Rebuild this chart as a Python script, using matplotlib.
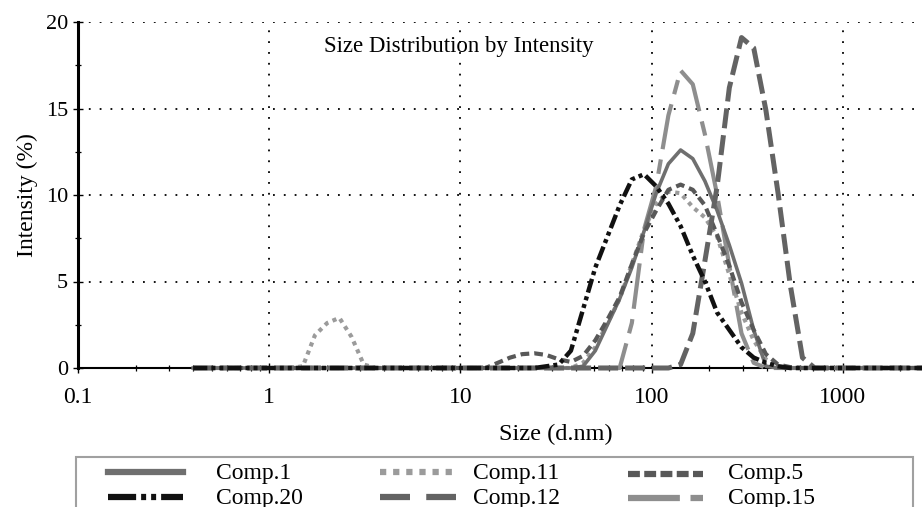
import matplotlib
matplotlib.use("Agg")
import matplotlib.pyplot as plt
from matplotlib.lines import Line2D
from matplotlib.patches import Rectangle
from matplotlib.ticker import LogLocator, FixedLocator, NullFormatter, FixedFormatter, MultipleLocator

plt.rcParams['font.family'] = ['Liberation Serif', 'DejaVu Serif']

# Size classes (d.nm) shared by all measurements
size_nm = [0.4,
           1.294, 1.499, 1.736, 2.010, 2.328, 2.696, 3.122, 3.615,
           11.70, 13.54, 15.69, 18.17, 21.04, 24.36, 28.21, 32.67, 37.84, 43.82,
           50.75, 58.77, 68.06, 78.82, 91.28, 105.7, 122.4, 141.8, 164.2, 190.1,
           220.2, 255.0, 295.3, 342.0, 396.1, 458.7, 531.2, 615.1, 712.4, 825.0,
           10000]

# Intensity (%) per size class
comp1 = [0,
         0, 0, 0, 0, 0, 0, 0, 0,
         0, 0, 0, 0, 0, 0, 0, 0, 0, 0.1,
         1.0, 2.5, 4.0, 5.8, 7.9, 10.1, 11.8, 12.6, 12.1, 10.8,
         9.1, 7.1, 4.9, 2.2, 0.1, 0, 0, 0, 0, 0,
         0]
comp20 = [0,
          0, 0, 0, 0, 0, 0, 0, 0,
          0, 0, 0, 0, 0, 0, 0.1, 0.2, 1.0, 3.4,
          5.8, 7.6, 9.4, 10.9, 11.2, 10.5, 9.5, 8.2, 6.5, 5.0,
          3.2, 2.2, 1.2, 0.6, 0.3, 0.1, 0, 0, 0, 0,
          0]
comp11 = [0,
          0, 0.1, 1.9, 2.6, 2.9, 1.8, 0.2, 0,
          0, 0, 0, 0, 0, 0, 0, 0, 0, 0.3,
          1.2, 2.6, 4.0, 6.0, 8.0, 9.5, 10.2, 10.1, 9.3, 8.7,
          7.6, 5.4, 3.2, 1.6, 0.5, 0.1, 0, 0, 0, 0,
          0]
comp12 = [0,
          0, 0, 0, 0, 0, 0, 0, 0,
          0, 0, 0, 0, 0, 0, 0, 0, 0, 0,
          0, 0, 0, 0, 0, 0, 0, 0.2, 2.0, 6.2,
          10.5, 16.2, 19.1, 18.5, 14.9, 10.1, 4.8, 0.6, 0, 0,
          0]
comp5 = [0,
         0, 0, 0, 0, 0, 0, 0, 0,
         0, 0, 0.3, 0.6, 0.8, 0.85, 0.75, 0.5, 0.35, 0.7,
         1.6, 2.8, 4.1, 6.0, 7.8, 9.1, 10.3, 10.6, 10.3, 9.4,
         7.7, 5.9, 3.8, 2.2, 0.8, 0.2, 0.05, 0, 0, 0,
         0]
comp15 = [0,
          0, 0, 0, 0, 0, 0, 0, 0,
          0, 0, 0, 0, 0, 0, 0, 0, 0, 0,
          0, 0, 0, 2.6, 8.0, 10.5, 14.6, 17.2, 16.4, 13.5,
          10.0, 5.9, 2.0, 0.3, 0, 0, 0, 0, 0, 0,
          0]

series_names = ['Comp.1', 'Comp.20', 'Comp.11', 'Comp.12', 'Comp.5', 'Comp.15']
series_values = [comp1, comp20, comp11, comp12, comp5, comp15]

x_ticks = [0.1, 1, 10, 100, 1000]
x_tick_labels = ['0.1', '1', '10', '100', '1000']
y_ticks = [0, 5, 10, 15, 20]

styles = {
    'Comp.1':  dict(color='#6f6f6f', lw=2.6, dashes=None,
                    leg_dashes=None),
    'Comp.20': dict(color='#111111', lw=3.2, dashes=(3.2, 0.9, 0.9, 0.9, 0.9, 0.9),
                    leg_dashes=(4.5, 0.8, 0.8, 0.8, 0.8, 0.8)),
    'Comp.11': dict(color='#9b9b9b', lw=3.0, dashes=(1, 1.1),
                    leg_dashes=(1, 1.1)),
    'Comp.12': dict(color='#636363', lw=3.6, dashes=(4, 1.4),
                    leg_dashes=(4.8, 2.6)),
    'Comp.5':  dict(color='#585858', lw=3.0, dashes=(2.1, 1.2),
                    leg_dashes=(1.9, 0.7)),
    'Comp.15': dict(color='#8e8e8e', lw=3.0, dashes=(11, 2.5, 3.5, 2.5),
                    leg_dashes=(8.3, 1.7, 2.2, 1.7)),
}
draw_order = ['Comp.15', 'Comp.11', 'Comp.1', 'Comp.5', 'Comp.12', 'Comp.20']

W, H = 922, 507
fig = plt.figure(figsize=(W / 100, H / 100), dpi=100)


def fx(x):
    return x / W


def fy(y):
    return 1 - y / H


# the log axis runs to 10000 nm; the right part falls outside the canvas
ax = fig.add_axes([fx(78), fy(368), (1034 - 78) / W, 346 / H])
ax.set_xscale('log')
ax.set_xlim(0.1, 10000)
ax.set_ylim(0, 20)

for z, name in enumerate(draw_order):
    st = styles[name]
    vals = series_values[series_names.index(name)]
    kw = dict(color=st['color'], lw=st['lw'], zorder=3 + z, clip_on=False)
    if st['dashes'] is not None:
        kw['dashes'] = st['dashes']
    ax.plot(size_nm, vals, **kw)

for s in ['top', 'right']:
    ax.spines[s].set_visible(False)
ax.spines['left'].set_linewidth(2.2)
ax.spines['bottom'].set_linewidth(1.5)
ax.spines['left'].set_zorder(10)

ax.xaxis.set_major_locator(FixedLocator(x_ticks))
ax.xaxis.set_major_formatter(FixedFormatter(x_tick_labels))
ax.xaxis.set_minor_locator(LogLocator(base=10, subs=range(2, 10)))
ax.xaxis.set_minor_formatter(NullFormatter())
ax.yaxis.set_major_locator(FixedLocator(y_ticks))
ax.yaxis.set_minor_locator(MultipleLocator(2.5))

ax.tick_params(which='major', direction='inout', length=7, width=1)
ax.tick_params(which='minor', direction='inout', length=4.5, width=0.9)
ax.tick_params(axis='x', which='major', pad=10.3, labelsize=17)
ax.tick_params(axis='y', which='major', pad=3.6, labelsize=16)

ax.grid(True, which='major', color='black', linestyle=(0, (1, 5)), linewidth=1.3)
ax.set_axisbelow(True)

ax.set_xlabel('Size (d.nm)', fontsize=17.5, labelpad=11)
ax.set_ylabel('Intensity (%)', fontsize=17, labelpad=6)
ax.text(0.3985, 0.928, 'Size Distribution by Intensity', transform=ax.transAxes,
        ha='center', va='center', fontsize=16.5, zorder=12)

# legend box along the bottom
fig.add_artist(Rectangle((fx(76), fy(525)), (913 - 76) / W, (525 - 457) / H,
                         transform=fig.transFigure, fill=False,
                         edgecolor='#a0a0a0', lw=1.5))
legend_slots = {
    'Comp.1': (108, 183, 472, 216, 479),
    'Comp.20': (108, 183, 497, 216, 504),
    'Comp.11': (380, 456, 472, 473, 479),
    'Comp.12': (380, 456, 497, 473, 504),
    'Comp.5': (628, 703, 474, 728, 479),
    'Comp.15': (628, 703, 498, 728, 504),
}
for name in series_names:
    st = styles[name]
    x0, x1, yl, xt, yt = legend_slots[name]
    kw = dict(color=st['color'], lw=4.5, transform=fig.transFigure)
    if st['leg_dashes'] is not None:
        kw['dashes'] = st['leg_dashes']
    fig.add_artist(Line2D([fx(x0), fx(x1)], [fy(yl), fy(yl)], **kw))
    fig.text(fx(xt), fy(yt), name, fontsize=17, ha='left', va='baseline')

fig.savefig('out.png', dpi=100)
